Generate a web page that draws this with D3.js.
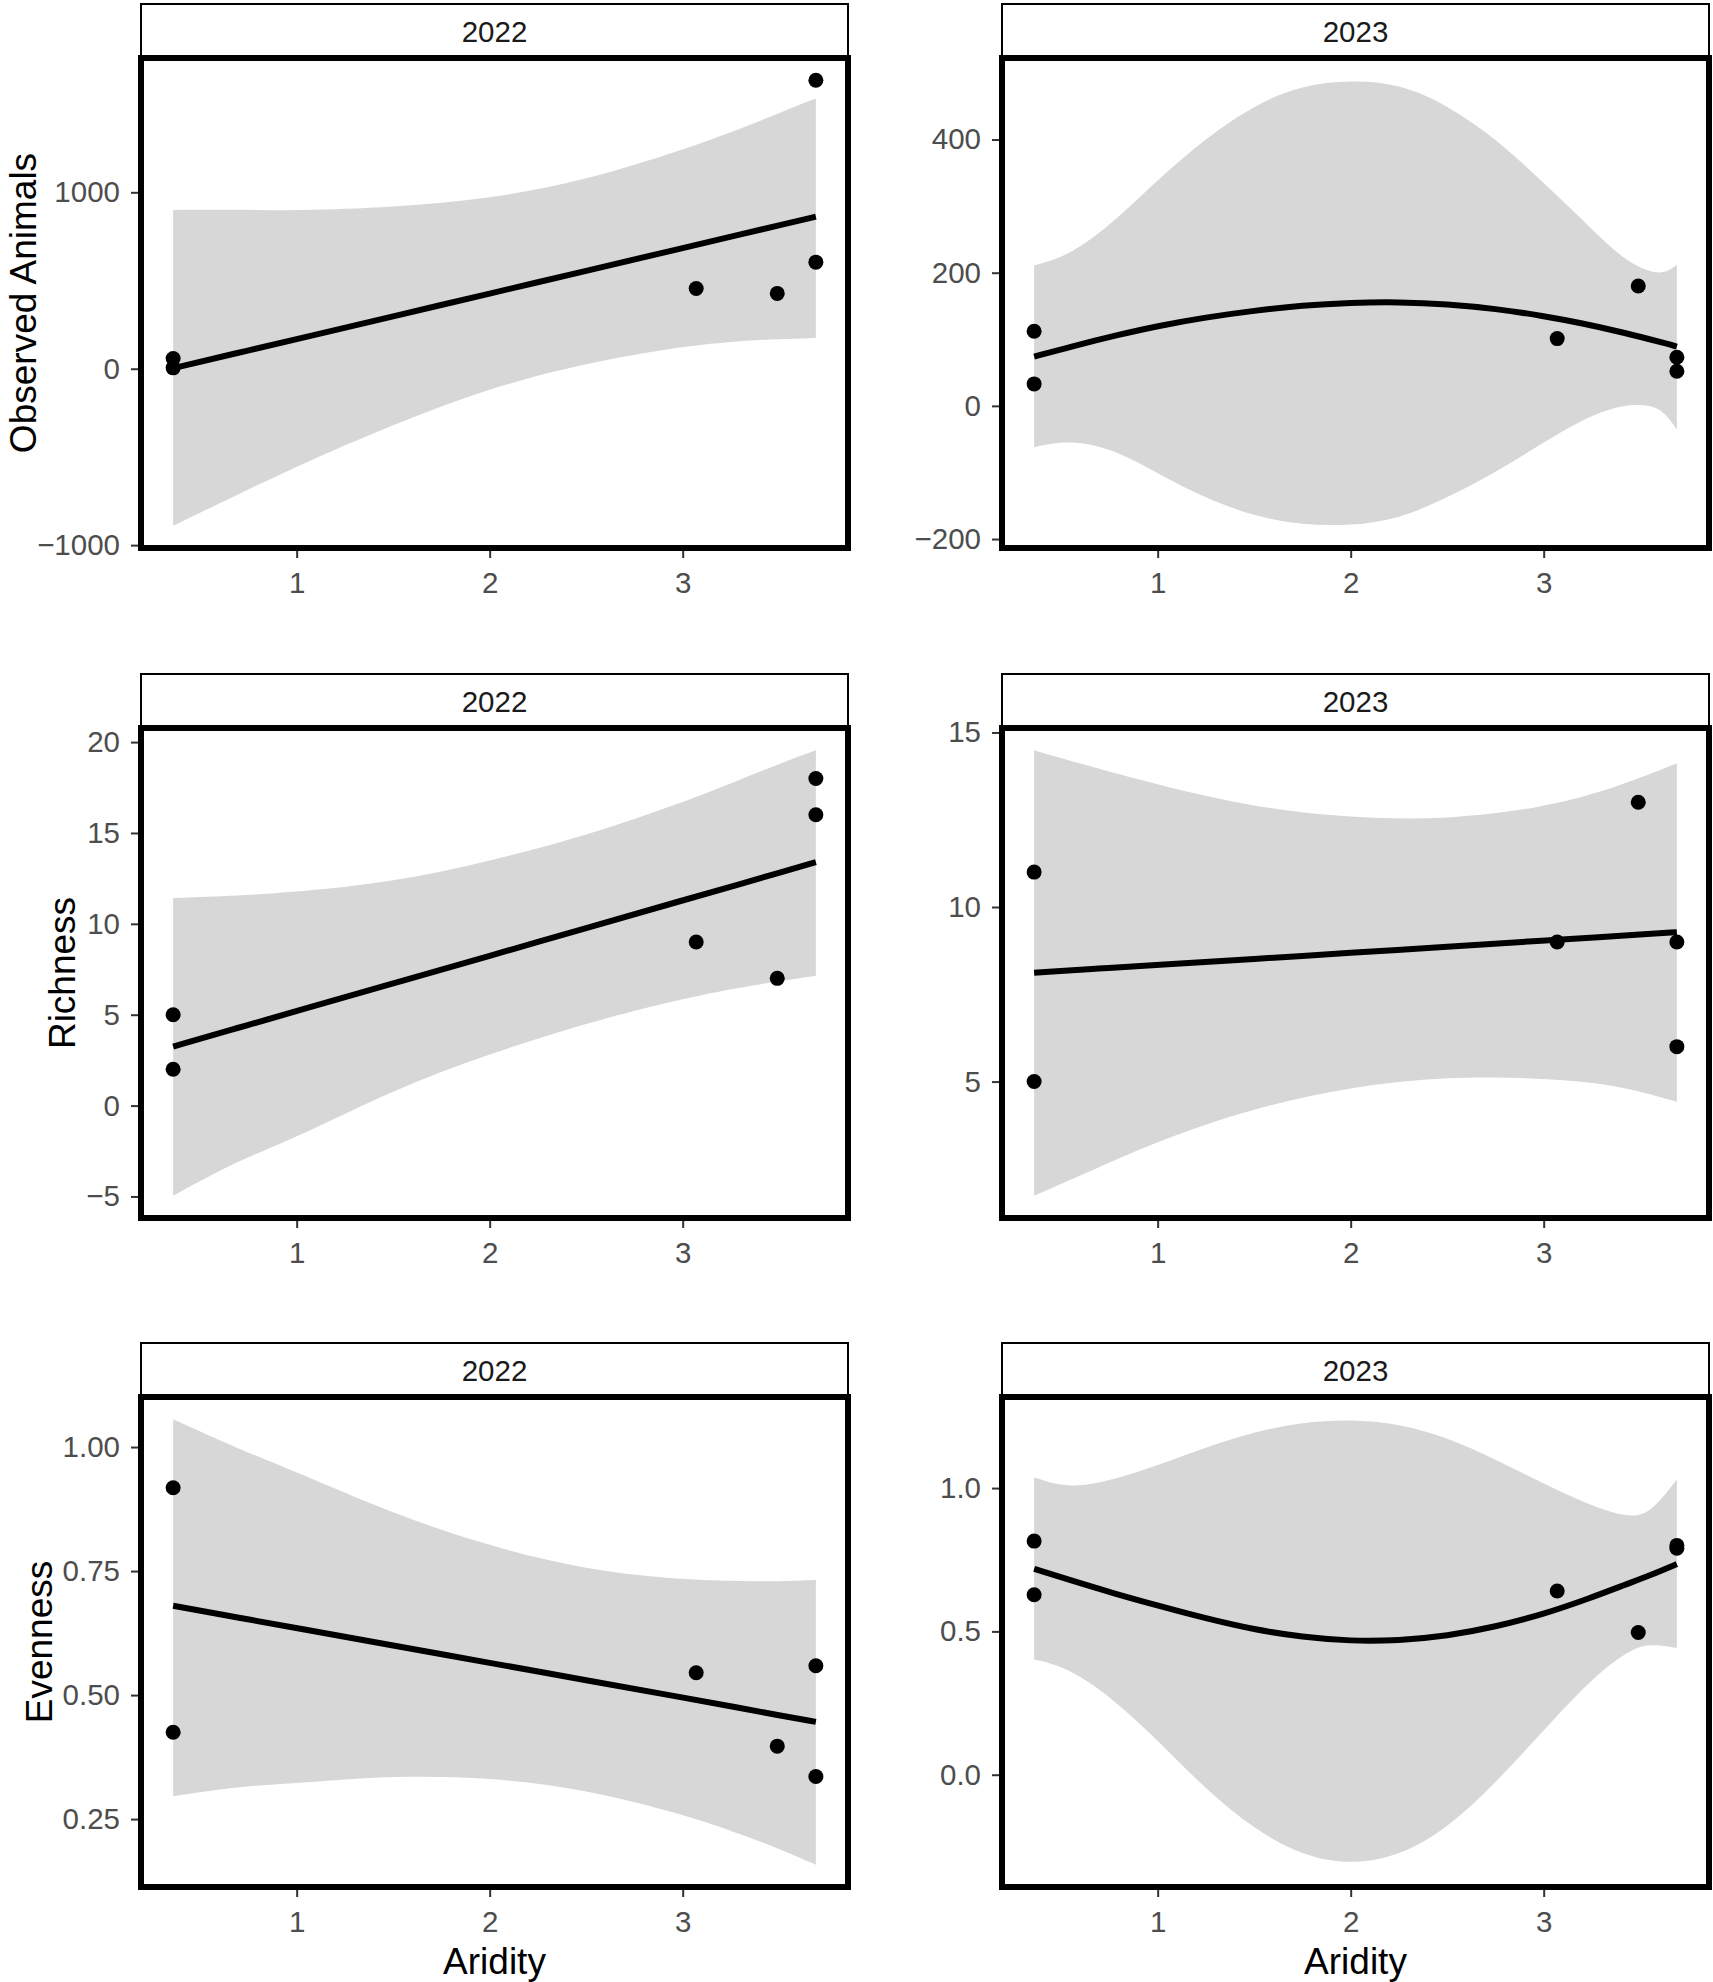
<!DOCTYPE html>
<html>
<head>
<meta charset="utf-8">
<script src="https://cdn.jsdelivr.net/npm/d3@7"></script>
<style>
  body { margin: 0; background: #ffffff; }
  svg { display: block; font-family: "Liberation Sans", Arial, Helvetica, sans-serif; }
</style>
</head>
<body>
<div id="canvas"></div>
<script>
// site aridity (same six sites in every panel)
var aridity = [0.36, 0.36, 3.07, 3.49, 3.69, 3.69];

// observed values per site
var animals2022 = [58, 5, 455, 427, 1635, 604];
var animals2023 = [112, 33, 101, 180, 73, 52];
var richness2022 = [5, 2, 9, 7, 18, 16];
var richness2023 = [11, 5, 9, 13, 9, 6];
var evenness2022 = [0.918, 0.425, 0.545, 0.397, 0.559, 0.336];
var evenness2023 = [0.815, 0.628, 0.641, 0.496, 0.80, 0.79];

// fitted line and confidence band
var linearX = [0.36, 0.7, 1, 1.5, 2, 2.5, 3, 3.3, 3.5, 3.69];

var animals2022Fit = [3, 91, 168, 297, 426, 555, 684, 761, 813, 862];
var animals2022Hi = [900, 903, 895, 915, 962, 1068, 1240, 1360, 1450, 1532];
var animals2022Lo = [-890, -710, -553, -316, -108, 32, 128, 158, 168, 174];

var animals2023X = [0.36, 0.55, 0.8, 1, 1.25, 1.5, 1.75, 2, 2.25, 2.5, 2.75, 3, 3.2, 3.4, 3.55, 3.63, 3.69];
var animals2023Fit = [74, 89, 107, 120, 133, 143, 151, 155, 156, 153, 146, 135, 124, 111, 100, 94, 89];
var animals2023Hi = [211, 226, 283, 340, 402, 452, 482, 489, 484, 452, 402, 335, 280, 222, 200, 199, 212];
var animals2023Lo = [-62, -50, -68, -102, -139, -166, -179, -180, -170, -138, -100, -55, -20, 2, 2, -10, -36];

var richness2022Fit = [3.25, 4.29, 5.2, 6.72, 8.24, 9.77, 11.29, 12.2, 12.81, 13.39];
var richness2022Hi = [11.42, 11.55, 11.74, 12.29, 13.45, 14.85, 16.67, 17.95, 18.8, 19.55];
var richness2022Lo = [-4.96, -3.0, -1.77, 0.88, 2.85, 4.55, 5.9, 6.5, 6.85, 7.14];

var richness2023Fit = [8.12, 8.24, 8.34, 8.51, 8.69, 8.86, 9.04, 9.14, 9.21, 9.28];
var richness2023Hi = [14.49, 13.95, 13.5, 12.85, 12.55, 12.5, 12.85, 13.3, 13.7, 14.12];
var richness2023Lo = [1.73, 2.55, 3.3, 4.25, 4.85, 5.15, 5.1, 4.95, 4.72, 4.42];

var evenness2022Fit = [0.680, 0.656, 0.635, 0.600, 0.565, 0.530, 0.495, 0.474, 0.459, 0.446];
var evenness2022Hi = [1.056, 0.996, 0.950, 0.865, 0.800, 0.752, 0.732, 0.730, 0.729, 0.732];
var evenness2022Lo = [0.296, 0.316, 0.322, 0.338, 0.334, 0.310, 0.260, 0.220, 0.190, 0.158];

var evenness2023X = [0.36, 0.54, 0.77, 1, 1.25, 1.5, 1.75, 2, 2.25, 2.5, 2.75, 3, 3.24, 3.43, 3.55, 3.69];
var evenness2023Fit = [0.718, 0.680, 0.633, 0.590, 0.545, 0.506, 0.480, 0.466, 0.468, 0.484, 0.516, 0.560, 0.616, 0.665, 0.695, 0.735];
var evenness2023Hi = [1.037, 0.997, 1.028, 1.079, 1.142, 1.196, 1.230, 1.240, 1.225, 1.177, 1.100, 1.015, 0.940, 0.898, 0.907, 1.030];
var evenness2023Lo = [0.402, 0.373, 0.264, 0.121, -0.052, -0.190, -0.284, -0.314, -0.284, -0.188, -0.030, 0.155, 0.330, 0.431, 0.459, 0.442];

// axis ticks and labels
var xTicks = [1, 2, 3];
var xTickLabels = ["1", "2", "3"];
var animals2022Ticks = [-1000, 0, 1000];
var animals2022Labels = ["\u22121000", "0", "1000"];
var animals2023Ticks = [-200, 0, 200, 400];
var animals2023Labels = ["\u2212200", "0", "200", "400"];
var richness2022Ticks = [-5, 0, 5, 10, 15, 20];
var richness2022Labels = ["\u22125", "0", "5", "10", "15", "20"];
var richness2023Ticks = [5, 10, 15];
var richness2023Labels = ["5", "10", "15"];
var evenness2022Ticks = [0.25, 0.50, 0.75, 1.00];
var evenness2022Labels = ["0.25", "0.50", "0.75", "1.00"];
var evenness2023Ticks = [0.0, 0.5, 1.0];
var evenness2023Labels = ["0.0", "0.5", "1.0"];

var years = ["2022", "2023"];
var rowTitles = ["Observed Animals", "Richness", "Evenness"];
var xTitle = "Aridity";

// layout of the 3 x 2 grid
var width = 1713,
	height = 1982;
var colLeft = [141, 1002],
	panelWidth = 707;
var rowTop = [58, 728, 1397],
	panelHeight = 490;

var svg = d3.select("#canvas")
	.append("svg")
	.attr("width", width)
	.attr("height", height);

// one entry per panel, row by row
var panels = [
	{row: 0, col: 0, y: animals2022, cx: linearX, fit: animals2022Fit, lo: animals2022Lo, hi: animals2022Hi, ticks: animals2022Ticks, labels: animals2022Labels},
	{row: 0, col: 1, y: animals2023, cx: animals2023X, fit: animals2023Fit, lo: animals2023Lo, hi: animals2023Hi, ticks: animals2023Ticks, labels: animals2023Labels},
	{row: 1, col: 0, y: richness2022, cx: linearX, fit: richness2022Fit, lo: richness2022Lo, hi: richness2022Hi, ticks: richness2022Ticks, labels: richness2022Labels},
	{row: 1, col: 1, y: richness2023, cx: linearX, fit: richness2023Fit, lo: richness2023Lo, hi: richness2023Hi, ticks: richness2023Ticks, labels: richness2023Labels},
	{row: 2, col: 0, y: evenness2022, cx: linearX, fit: evenness2022Fit, lo: evenness2022Lo, hi: evenness2022Hi, ticks: evenness2022Ticks, labels: evenness2022Labels},
	{row: 2, col: 1, y: evenness2023, cx: evenness2023X, fit: evenness2023Fit, lo: evenness2023Lo, hi: evenness2023Hi, ticks: evenness2023Ticks, labels: evenness2023Labels}
];

// ggplot style 5% expansion of a continuous range
function expand(values) {
	var ext = d3.extent(values);
	var pad = (ext[1] - ext[0]) * 0.05;
	return [ext[0] - pad, ext[1] + pad];
}

function drawPanel(p) {
	var left = colLeft[p.col],
		top = rowTop[p.row],
		bottom = top + panelHeight;

	var x = d3.scaleLinear()
		.domain(expand(aridity))
		.range([left, left + panelWidth]);

	var y = d3.scaleLinear()
		.domain(expand(p.y.concat(p.lo, p.hi)))
		.range([bottom, top]);

	var g = svg.append("g");

	// strip with the year
	g.append("rect")
		.attr("x", left)
		.attr("y", top - 54)
		.attr("width", panelWidth)
		.attr("height", 54)
		.attr("fill", "#ffffff")
		.attr("stroke", "#000000")
		.attr("stroke-width", 2);
	g.append("text")
		.attr("x", left + panelWidth / 2)
		.attr("y", top - 27)
		.attr("dy", "0.36em")
		.attr("text-anchor", "middle")
		.style("font-size", "29.5px")
		.attr("fill", "#1a1a1a")
		.text(years[p.col]);

	var band = p.cx.map(function(d, i) {
		return {x: d, lo: p.lo[i], hi: p.hi[i], fit: p.fit[i]};
	});

	// confidence band
	g.append("path")
		.datum(band)
		.attr("fill", "#d7d7d7")
		.attr("d", d3.area()
			.curve(d3.curveBasis)
			.x(function(d) { return x(d.x); })
			.y0(function(d) { return y(d.lo); })
			.y1(function(d) { return y(d.hi); })
		);

	// fitted line
	g.append("path")
		.datum(band)
		.attr("fill", "none")
		.attr("stroke", "#000000")
		.attr("stroke-width", 6)
		.attr("d", d3.line()
			.curve(d3.curveBasis)
			.x(function(d) { return x(d.x); })
			.y(function(d) { return y(d.fit); })
		);

	// observations
	g.selectAll(".dot")
		.data(p.y)
		.enter()
		.append("circle")
		.attr("cx", function(d, i) { return x(aridity[i]); })
		.attr("cy", function(d) { return y(d); })
		.attr("r", 7.5)
		.attr("fill", "#000000");

	// panel border
	g.append("rect")
		.attr("x", left)
		.attr("y", top)
		.attr("width", panelWidth)
		.attr("height", panelHeight)
		.attr("fill", "none")
		.attr("stroke", "#000000")
		.attr("stroke-width", 6);

	// y axis
	var yAxis = g.append("g")
		.attr("transform", "translate(" + (left - 3) + ",0)")
		.call(d3.axisLeft(y)
			.tickValues(p.ticks)
			.tickFormat(function(d, i) { return p.labels[i]; })
			.tickSize(7)
			.tickPadding(11));
	styleAxis(yAxis);

	// x axis
	var xAxis = g.append("g")
		.attr("transform", "translate(0," + (bottom + 3) + ")")
		.call(d3.axisBottom(x)
			.tickValues(xTicks)
			.tickFormat(function(d, i) { return xTickLabels[i]; })
			.tickSize(7)
			.tickPadding(14));
	styleAxis(xAxis);

	// y title only in the left column
	if (p.col == 0) {
		var labelWidth = 0;
		yAxis.selectAll("text").each(function() {
			labelWidth = Math.max(labelWidth, this.getComputedTextLength());
		});
		var tx = Math.max(left - 21 - labelWidth - 11, 36);
		g.append("text")
			.attr("transform", "translate(" + tx + "," + (top + panelHeight / 2) + ") rotate(-90)")
			.attr("text-anchor", "middle")
			.style("font-size", "37px")
			.attr("fill", "#000000")
			.text(rowTitles[p.row]);
	}

	// x title only in the bottom row
	if (p.row == 2) {
		g.append("text")
			.attr("x", left + panelWidth / 2)
			.attr("y", 1974)
			.attr("text-anchor", "middle")
			.style("font-size", "37px")
			.attr("fill", "#000000")
			.text(xTitle);
	}
}

function styleAxis(axis) {
	axis.attr("font-family", null).attr("font-size", null);
	axis.select(".domain").remove();
	axis.selectAll(".tick line")
		.attr("stroke", "#333333")
		.attr("stroke-width", 2);
	axis.selectAll(".tick text")
		.style("font-size", "29.5px")
		.attr("fill", "#4d4d4d");
}

panels.forEach(drawPanel);
</script>
</body>
</html>
